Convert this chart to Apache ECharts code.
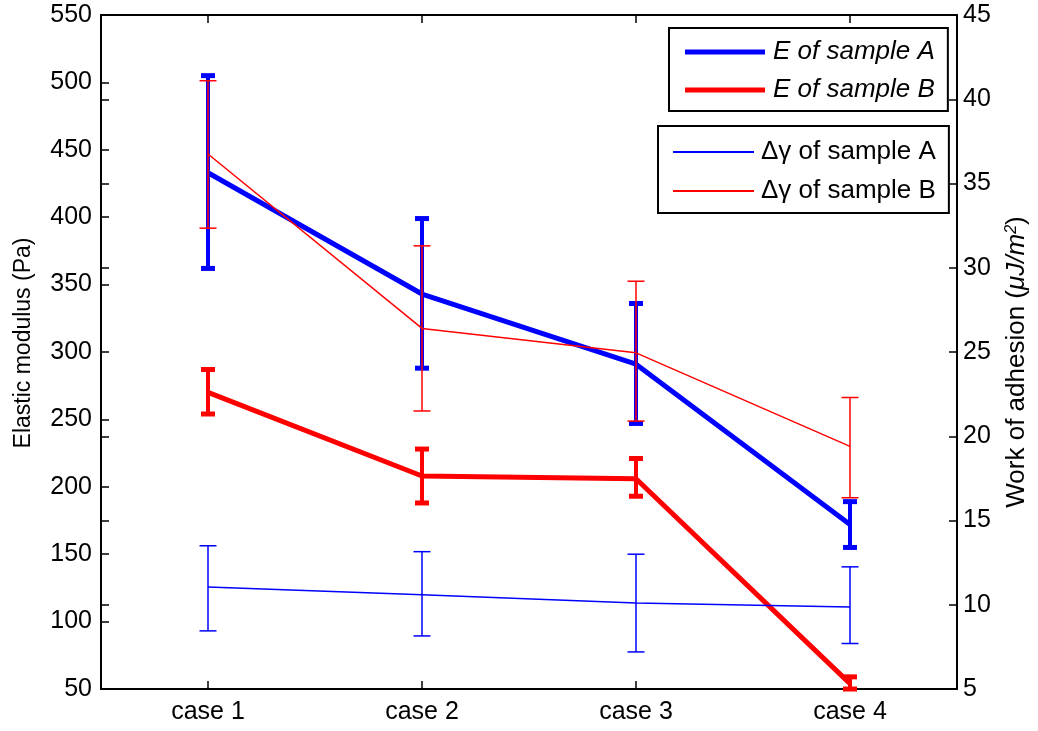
<!DOCTYPE html>
<html>
<head>
<meta charset="utf-8">
<script src="https://cdn.jsdelivr.net/npm/echarts@6/dist/echarts.min.js"></script>
<style>
  html, body { margin: 0; padding: 0; background: #fff; }
  #chart { width: 1038px; height: 731px; }
</style>
</head>
<body>
<div id="chart"></div>
<script>
// categories
const categories = ["case 1", "case 2", "case 3", "case 4"];

// elastic modulus (Pa), left axis
const eA = [433, 343, 291, 172];
const eALow = [362, 288, 247, 155];
const eAHigh = [505, 399, 336, 189];
const eB = [270, 208, 206, 54];
const eBLow = [254, 188, 193, 50];
const eBHigh = [287, 228, 221, 59];

// work of adhesion (uJ/m2), right axis
const gA = [11.05, 10.6, 10.1, 9.87];
const gALow = [8.45, 8.15, 7.2, 7.7];
const gAHigh = [13.5, 13.15, 13.0, 12.25];
const gB = [36.75, 26.4, 24.95, 19.4];
const gBLow = [32.35, 21.5, 20.9, 16.35];
const gBHigh = [41.1, 31.3, 29.2, 22.3];

const blue = "#0000ff";
const red = "#ff0000";
const font = "'Liberation Sans', Arial, sans-serif";

function errData(low, high) {
  return low.map((v, i) => [i, v, high[i]]);
}

// vertical bar with caps
function errorBar(lineW, capW, capH) {
  return function (params, api) {
    const i = api.value(0);
    const lo = api.coord([i, api.value(1)]);
    const hi = api.coord([i, api.value(2)]);
    const color = api.visual("color");
    const st = { stroke: color, lineWidth: lineW };
    const cs = { stroke: color, lineWidth: capH };
    return {
      type: "group",
      children: [
        { type: "line", shape: { x1: lo[0], y1: lo[1], x2: hi[0], y2: hi[1] }, style: st },
        { type: "line", shape: { x1: lo[0] - capW / 2, y1: lo[1], x2: lo[0] + capW / 2, y2: lo[1] }, style: cs },
        { type: "line", shape: { x1: hi[0] - capW / 2, y1: hi[1], x2: hi[0] + capW / 2, y2: hi[1] }, style: cs },
      ],
    };
  };
}

function errSeries(name, low, high, yIdx, color, thick) {
  return {
    name: name + " err",
    type: "custom",
    xAxisIndex: 0,
    yAxisIndex: yIdx,
    renderItem: thick ? errorBar(4, 14, 5) : errorBar(1.5, 17, 1.5),
    itemStyle: { color: color },
    encode: { x: 0, y: [1, 2] },
    data: errData(low, high),
    z: thick ? 2 : 4,
    silent: true,
  };
}

function lineSeries(name, data, yIdx, color, width) {
  return {
    name: name,
    type: "line",
    yAxisIndex: yIdx,
    data: data,
    symbol: "none",
    lineStyle: { color: color, width: width },
    itemStyle: { color: color },
    z: width > 2 ? 2 : 4,
    silent: true,
    animation: false,
  };
}

const axisLine = { show: true, lineStyle: { color: "#000", width: 2 } };
const tick = { show: true, inside: true, length: 8, lineStyle: { color: "#000", width: 1.5 } };

const chart = echarts.init(document.getElementById("chart"));
chart.setOption({
  backgroundColor: "#fff",
  animation: false,
  textStyle: { fontFamily: font },
  grid: { left: 101, right: 81, top: 15, bottom: 42, containLabel: false },
  legend: [
    {
      data: ["E of sample A", "E of sample B"],
      orient: "vertical",
      left: 669,
      top: 28,
      icon: "rect",
      itemWidth: 80,
      itemHeight: 5,
      itemGap: 12,
      padding: [11, 13, 8, 16],
      borderColor: "#000",
      borderWidth: 2,
      backgroundColor: "#fff",
      selectedMode: false,
      textStyle: { fontSize: 26, fontStyle: "italic", color: "#000", fontFamily: font, padding: [0, 0, 0, 3] },
    },
    {
      data: ["Δγ of sample A", "Δγ of sample B"],
      orient: "vertical",
      left: 658,
      top: 126,
      icon: "rect",
      itemWidth: 81,
      itemHeight: 2,
      itemGap: 13,
      padding: [13, 13, 9, 15],
      borderColor: "#000",
      borderWidth: 2,
      backgroundColor: "#fff",
      selectedMode: false,
      textStyle: { fontSize: 26, color: "#000", fontFamily: font, padding: [0, 0, 0, 2] },
    },
  ],
  xAxis: [
    {
      type: "category",
      data: categories,
      position: "bottom",
      axisLine: axisLine,
      axisTick: Object.assign({ alignWithLabel: true }, tick),
      axisLabel: { color: "#000", fontSize: 25, margin: 11, fontFamily: font },
      splitLine: { show: false },
    },
    {
      type: "category",
      data: categories,
      position: "top",
      axisLine: axisLine,
      axisTick: Object.assign({ alignWithLabel: true }, tick),
      axisLabel: { show: false },
      splitLine: { show: false },
    },
  ],
  yAxis: [
    {
      type: "value",
      min: 50,
      max: 550,
      interval: 50,
      position: "left",
      name: "Elastic modulus (Pa)",
      nameLocation: "middle",
      nameGap: 66,
      nameTextStyle: { fontSize: 23, color: "#000", fontFamily: font, padding: [0, 0, 0, 18] },
      axisLine: axisLine,
      axisTick: tick,
      axisLabel: { color: "#000", fontSize: 25, margin: 9, showMinLabel: true, showMaxLabel: true, fontFamily: font },
      splitLine: { show: false },
    },
    {
      type: "value",
      min: 5,
      max: 45,
      interval: 5,
      position: "right",
      name: "{a|Work of adhesion (}{b|μJ/m}{c|2}{a|)}",
      nameLocation: "middle",
      nameGap: 47,
      nameTextStyle: {
        color: "#000",
        padding: [0, 20, 0, 0],
        rich: {
          a: { fontSize: 26, color: "#000", fontFamily: font },
          b: { fontSize: 26, color: "#000", fontStyle: "italic", fontFamily: font },
          c: { fontSize: 16, color: "#000", fontStyle: "italic", fontFamily: font, verticalAlign: "top" },
        },
      },
      axisLine: axisLine,
      axisTick: tick,
      axisLabel: { color: "#000", fontSize: 25, margin: 6, showMinLabel: true, showMaxLabel: true, fontFamily: font },
      splitLine: { show: false },
    },
    {
      // right-axis ticks mirrored on the left side
      type: "value",
      min: 5,
      max: 45,
      interval: 5,
      position: "left",
      axisLine: { show: false },
      axisTick: tick,
      axisLabel: { show: false },
      splitLine: { show: false },
    },
  ],
  series: [
    lineSeries("E of sample A", eA, 0, blue, 5),
    lineSeries("E of sample B", eB, 0, red, 5),
    errSeries("E of sample A", eALow, eAHigh, 0, blue, true),
    errSeries("E of sample B", eBLow, eBHigh, 0, red, true),
    lineSeries("Δγ of sample A", gA, 1, blue, 1.5),
    lineSeries("Δγ of sample B", gB, 1, red, 1.5),
    errSeries("Δγ of sample A", gALow, gAHigh, 1, blue, false),
    errSeries("Δγ of sample B", gBLow, gBHigh, 1, red, false),
  ],
});
</script>
</body>
</html>
